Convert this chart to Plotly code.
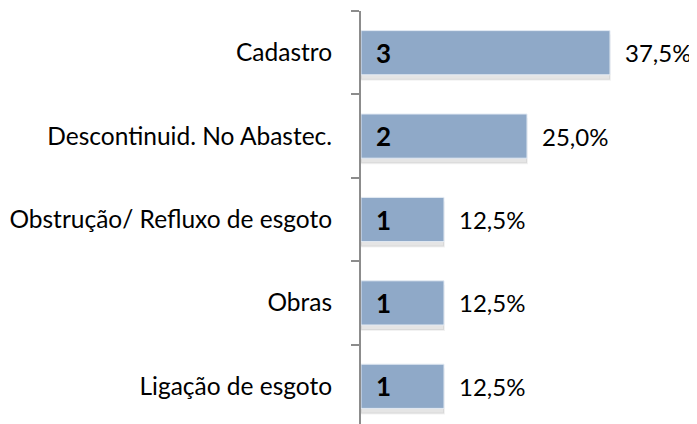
import plotly.graph_objects as go

# Dados (de baixo para cima)
categorias = ["Ligação de esgoto", "Obras", "Obstrução/ Refluxo de esgoto",
              "Descontinuid. No Abastec.", "Cadastro"]
quantidades = [1, 1, 1, 2, 3]
percentuais = ["12,5%", "12,5%", "12,5%", "25,0%", "37,5%"]

FONTE = "Lato"
LARGURA = 0.53

fig = go.Figure()

# sombra das barras
fig.add_trace(go.Bar(
    x=quantidades, y=categorias, orientation="h",
    width=LARGURA, offset=-LARGURA / 2 - 0.06,
    marker=dict(color="rgba(0,0,0,0.10)", line=dict(color="rgba(0,0,0,0.05)", width=2)),
    hoverinfo="skip", showlegend=False,
))
fig.add_trace(go.Bar(
    x=quantidades, y=categorias, orientation="h",
    width=LARGURA,
    marker=dict(color="#8FA9C8", line=dict(color="#E3EAF3", width=1)),
    showlegend=False,
))

for cat, q, p in zip(categorias, quantidades, percentuais):
    fig.add_annotation(x=0, y=cat, text=f"<b>{q}</b>", showarrow=False,
                       xanchor="left", xshift=13,
                       font=dict(family=FONTE, size=26, color="black"))
    fig.add_annotation(x=q, y=cat, text=p, showarrow=False,
                       xanchor="left", xshift=13,
                       font=dict(family=FONTE, size=24, color="black"))

# a página tem 8px de margem no body
fig.update_layout(
    width=689, height=416,
    margin=dict(l=353, r=4, t=3, b=0),
    barmode="overlay",
    plot_bgcolor="white", paper_bgcolor="white",
    font=dict(family=FONTE, size=24.5, color="black"),
    xaxis=dict(range=[0, 4], visible=False),
    yaxis=dict(
        categoryorder="array", categoryarray=categorias,
        range=[-0.452, 4.5],
        showline=True, linecolor="#8C8C8C", linewidth=2,
        ticks="outside", tickson="boundaries", ticklen=8,
        tickcolor="#8C8C8C", tickwidth=2,
        ticklabelstandoff=22,
        showgrid=False, zeroline=False,
        automargin=False,
    ),
)

fig.write_html("out.html")
